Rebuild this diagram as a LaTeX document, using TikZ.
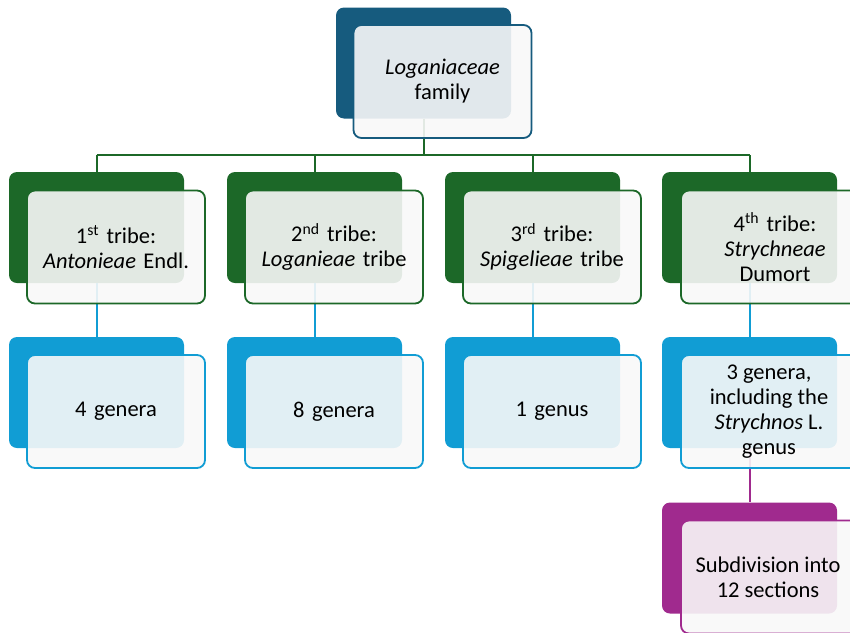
\documentclass[tikz,border=0pt]{standalone}
\usepackage{fontspec}
\setmainfont{Carlito}
\definecolor{cnavy}{RGB}{22,91,126}
\definecolor{cgreen}{RGB}{28,104,40}
\definecolor{cblue}{RGB}{17,157,212}
\definecolor{cpurple}{RGB}{160,42,142}
\definecolor{cpaper}{RGB}{248,248,248}
\begin{document}
\begin{tikzpicture}[x=1pt,y=-1pt,
  backbox/.style={draw=none,fill=#1,rounded corners=8pt,minimum width=175pt,minimum height=111pt,inner sep=0pt},
  frontbox/.style={draw=#1,line width=1.8pt,fill=cpaper,fill opacity=0.9,text opacity=1,rounded corners=8pt,minimum width=178pt,minimum height=113pt,inner sep=0pt,align=center,text width=176pt,font=\fontsize{22.5}{25}\selectfont},
  conn/.style={draw=#1,line width=2pt}]
\useasboundingbox (0,0) rectangle (850,632);
\clip (0,0) rectangle (850,632);
% connector coordinates
\coordinate (hl) at (96.5,155);
\coordinate (hr) at (749.5,155);
\coordinate (hm) at (423.5,155);
% back boxes
\node[backbox=cnavy] (b0) at (423.5,63) {};
\node[backbox=cgreen] (bt1) at (96.5,227.5) {};
\node[backbox=cgreen] (bt2) at (314.5,227.5) {};
\node[backbox=cgreen] (bt3) at (532.5,227.5) {};
\node[backbox=cgreen] (bt4) at (749.5,227.5) {};
\node[backbox=cblue] (bg1) at (96.5,392.5) {};
\node[backbox=cblue] (bg2) at (314.5,392.5) {};
\node[backbox=cblue] (bg3) at (532.5,392.5) {};
\node[backbox=cblue] (bg4) at (749.5,392.5) {};
\node[backbox=cpurple] (bs) at (749.5,558) {};
% lines
\draw[conn=cgreen] (b0.south) -- (hm);
\draw[conn=cgreen] (hl) -- (hr);
\draw[conn=cgreen] (hl) -- (bt1.north);
\draw[conn=cgreen] (bt2.north|-hl) -- (bt2.north);
\draw[conn=cgreen] (bt3.north|-hl) -- (bt3.north);
\draw[conn=cgreen] (hr) -- (bt4.north);
\draw[conn=cblue] (bt1.south) -- (bg1.north);
\draw[conn=cblue] (bt2.south) -- (bg2.north);
\draw[conn=cblue] (bt3.south) -- (bg3.north);
\draw[conn=cblue] (bt4.south) -- (bg4.north);
\draw[conn=cpurple] (bg4.south) -- (bs.north);
% front boxes
\node[frontbox=cnavy] (f0) at (442.5,81.5) {\textit{Loganiaceae}\\family};
\node[frontbox=cgreen] (ft1) at (116,247) {1\textsuperscript{st} tribe:\\\textit{Antonieae} Endl.};
\node[frontbox=cgreen] (ft2) at (334,247) {2\textsuperscript{nd} tribe:\\\textit{Loganieae} tribe};
\node[frontbox=cgreen] (ft3) at (552,247) {3\textsuperscript{rd} tribe:\\\textit{Spigelieae} tribe};
\node[frontbox=cgreen,minimum width=188pt] (ft4) at (775,247) {4\textsuperscript{th} tribe:\\\textit{Strychneae}\\Dumort};
\node[frontbox=cblue] (fg1) at (116,411.5) {4 genera};
\node[frontbox=cblue] (fg2) at (334,411.5) {8 genera};
\node[frontbox=cblue] (fg3) at (552,411.5) {1 genus};
\node[frontbox=cblue,minimum width=188pt,text width=1pt] (fg4) at (775,411.5) {};
\node[align=center,font=\fontsize{22.5}{25}\selectfont] (fg4t) at (769,411.5) {3 genera,\\including the\\\textit{Strychnos} L.\\genus};
\node[frontbox=cpurple,minimum width=188pt,text width=1pt] (fs) at (775,577) {};
\node[align=center,font=\fontsize{22.5}{25}\selectfont] (fst) at (768,577) {Subdivision into\\12 sections};
\end{tikzpicture}
\end{document}
